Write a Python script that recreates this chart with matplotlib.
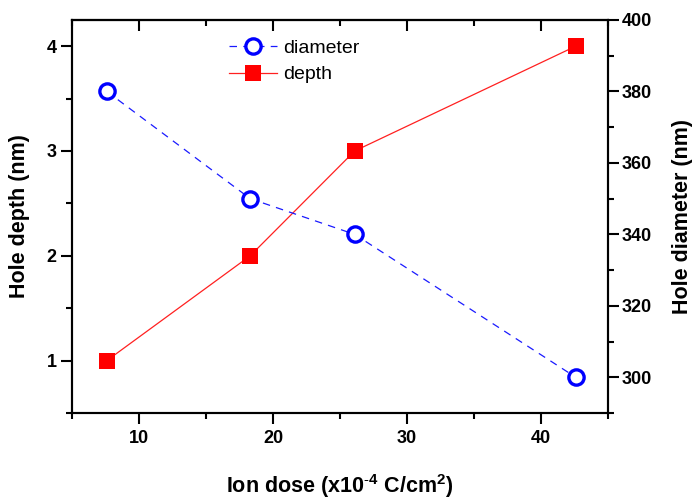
import matplotlib
matplotlib.use("Agg")
import matplotlib.pyplot as plt
from matplotlib.ticker import MultipleLocator

plt.rcParams['font.family'] = ['Liberation Sans', 'DejaVu Sans']
plt.rcParams['mathtext.fontset'] = 'custom'
plt.rcParams['mathtext.rm'] = 'Liberation Sans'
plt.rcParams['mathtext.bf'] = 'Liberation Sans:bold'

# Ion dose (x10^-4 C/cm^2)
dose = [7.6, 18.3, 26.1, 42.6]
# Hole depth (nm)
depth = [1.0, 2.0, 3.0, 4.0]
# Hole diameter (nm)
diameter = [380, 350, 340, 300]

fig = plt.figure(figsize=(6.94, 4.99), dpi=100)
ax = fig.add_axes([0.1037, 0.1723, 0.7723, 0.7877])
ax2 = ax.twinx()

l1, = ax2.plot(dose, diameter, ls=(0, (6, 5)), lw=0.9, color='#1a1aff',
               marker='o', ms=11, mfc='white', mec='#0000ff', mew=2.4,
               label='diameter')
l2, = ax.plot(dose, depth, ls='-', lw=0.9, color='#ff2020',
              marker='s', ms=11, mfc='#ff0000', mec='#ff0000', mew=0,
              label='depth')

ax.set_xlim(5, 45)
ax.set_ylim(0.5, 4.25)
ax2.set_ylim(290, 400)

ax.xaxis.set_major_locator(MultipleLocator(10))
ax.xaxis.set_minor_locator(MultipleLocator(5))
ax.yaxis.set_major_locator(MultipleLocator(1))
ax.yaxis.set_minor_locator(MultipleLocator(0.5))
ax2.yaxis.set_major_locator(MultipleLocator(20))
ax2.yaxis.set_minor_locator(MultipleLocator(10))

for a in (ax, ax2):
    for s in a.spines.values():
        s.set_linewidth(1.5)
    a.tick_params(which='major', length=8, width=1.5, labelsize=13)
    a.tick_params(which='minor', length=4, width=1.5)

ax.tick_params(axis='x', which='both', direction='out', top=False, pad=4)
ax.tick_params(axis='y', which='both', direction='out', pad=3)
ax2.tick_params(axis='y', which='both', direction='out', pad=2)

# inward ticks along the top edge
sec = ax.secondary_xaxis('top')
sec.xaxis.set_major_locator(MultipleLocator(10))
sec.xaxis.set_minor_locator(MultipleLocator(5))
sec.tick_params(which='major', direction='in', length=8, width=1.5, labeltop=False)
sec.tick_params(which='minor', direction='in', length=4, width=1.5)
sec.spines['top'].set_linewidth(1.5)

for a in (ax, ax2):
    for lab in a.get_xticklabels() + a.get_yticklabels():
        lab.set_fontweight('bold')

ax.set_ylabel('Hole depth (nm)', fontsize=15.5, fontweight='bold', labelpad=12)
ax2.set_ylabel('Hole diameter (nm)', fontsize=15.5, fontweight='bold', labelpad=14)
ax.set_xlabel(r'Ion dose (x10$^{\mathbf{\text{-}4}}$ C/cm$^{\mathbf{2}}$)',
              fontsize=15.5, fontweight='bold', labelpad=18)

leg = ax.legend([l1, l2], ['diameter', 'depth'], loc='upper left',
                bbox_to_anchor=(0.26, 0.995), frameon=False, fontsize=14,
                handlelength=2.5, handletextpad=0.3, labelspacing=0.45)

fig.savefig('out.png', dpi=100)
